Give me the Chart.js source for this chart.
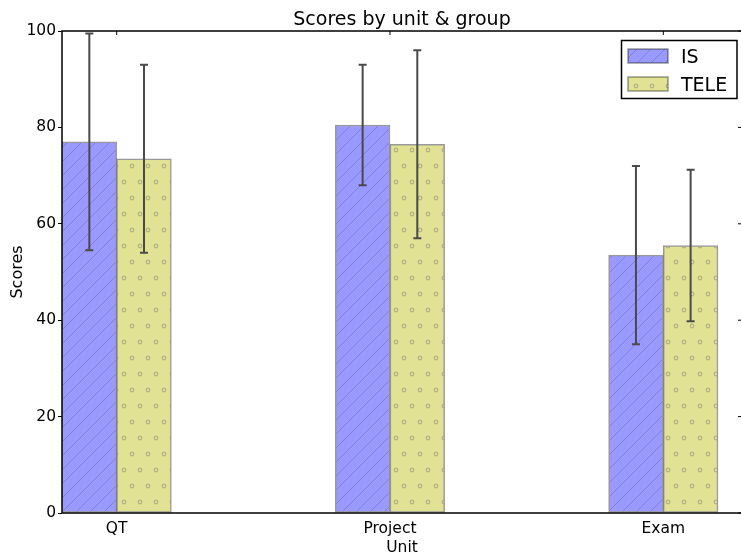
<!DOCTYPE html>
<html>
<head>
<meta charset="utf-8">
<script src="https://cdn.jsdelivr.net/npm/chart.js@4.4.1/dist/chart.umd.min.js"></script>
<style>
  html, body { margin: 0; padding: 0; background: #fff; overflow: hidden; }
  #wrap { width: 741px; height: 553px; overflow: hidden; }
</style>
</head>
<body>
<div id="wrap"><canvas id="chart" width="760" height="553"></canvas></div>
<script>
const units = ['QT', 'Project', 'Exam'];
const isScores = [77, 80.5, 53.5];
const isErrors = [22.5, 12.5, 18.5];
const teleScores = [73.5, 76.5, 55.5];
const teleErrors = [19.5, 19.5, 15.7];
const seriesNames = ['IS', 'TELE'];
const yTicks = [0, 20, 40, 60, 80, 100];

const FONT = '"DejaVu Sans", sans-serif';
const BAR_W = 0.2;
const canvas = document.getElementById('chart');
const ctx = canvas.getContext('2d');

function hatchPattern(bg, line) {
  const c = document.createElement('canvas');
  c.width = 14; c.height = 14;
  const g = c.getContext('2d');
  g.fillStyle = bg;
  g.fillRect(0, 0, 14, 14);
  g.strokeStyle = line;
  g.lineWidth = 1;
  g.beginPath();
  g.moveTo(0, 14); g.lineTo(14, 0);
  g.moveTo(-7, 7); g.lineTo(7, -7);
  g.moveTo(7, 21); g.lineTo(21, 7);
  g.stroke();
  return ctx.createPattern(c, 'repeat');
}

function dotPattern(bg, line) {
  const c = document.createElement('canvas');
  c.width = 16; c.height = 32;
  const g = c.getContext('2d');
  g.fillStyle = bg;
  g.fillRect(0, 0, 16, 32);
  g.strokeStyle = line;
  g.lineWidth = 0.9;
  [[4, 6], [12, 22]].forEach(([x, y]) => {
    g.beginPath();
    g.arc(x, y, 1.9, 0, Math.PI * 2);
    g.stroke();
  });
  return ctx.createPattern(c, 'repeat');
}

const isFill = hatchPattern('#9999ff', 'rgba(90,90,150,0.4)');
const teleFill = dotPattern('#e2e294', 'rgba(120,120,110,0.6)');

const errorBars = {
  id: 'errorBars',
  afterDatasetsDraw(chart) {
    const { ctx, scales: { y } } = chart;
    ctx.save();
    ctx.strokeStyle = '#4a4a4a';
    ctx.lineWidth = 2;
    chart.data.datasets.forEach((ds, di) => {
      chart.getDatasetMeta(di).data.forEach((bar, i) => {
        const v = ds.data[i].y;
        const e = ds.errors[i];
        const top = y.getPixelForValue(v + e);
        const bot = y.getPixelForValue(v - e);
        ctx.beginPath();
        ctx.moveTo(bar.x, top); ctx.lineTo(bar.x, bot);
        ctx.moveTo(bar.x - 4, top); ctx.lineTo(bar.x + 4, top);
        ctx.moveTo(bar.x - 4, bot); ctx.lineTo(bar.x + 4, bot);
        ctx.stroke();
      });
    });
    ctx.restore();
  }
};

// spines, inner ticks, title and legend
const decorations = {
  id: 'decorations',
  afterDraw(chart) {
    const { ctx, chartArea: a, scales: { x, y } } = chart;
    ctx.save();
    ctx.strokeStyle = '#000';
    ctx.lineWidth = 1.5;
    ctx.strokeRect(a.left, a.top, a.right - a.left, a.bottom - a.top);

    ctx.lineWidth = 1;
    ctx.beginPath();
    x.ticks.forEach((t) => {
      const px = x.getPixelForValue(t.value);
      ctx.moveTo(px, a.top); ctx.lineTo(px, a.top + 4);
    });
    y.ticks.forEach((t) => {
      const py = y.getPixelForValue(t.value);
      ctx.moveTo(a.right - 4, py); ctx.lineTo(a.right, py);
    });
    ctx.stroke();

    ctx.fillStyle = '#000';
    ctx.font = `19px ${FONT}`;
    ctx.textAlign = 'center';
    ctx.textBaseline = 'alphabetic';
    ctx.fillText('Scores by unit & group', (a.left + a.right) / 2, 25);

    // legend
    const lx = 621.5, ly = 40.5;
    ctx.fillStyle = '#fff';
    ctx.fillRect(lx, ly, 115.5, 58);
    ctx.lineWidth = 1.5;
    ctx.strokeStyle = '#000';
    ctx.strokeRect(lx, ly, 115.5, 58);
    chart.data.datasets.forEach((ds, i) => {
      const py = 49 + i * 28;
      ctx.fillStyle = ds.backgroundColor;
      ctx.fillRect(628, py, 40, 14);
      ctx.strokeStyle = ds.borderColor;
      ctx.lineWidth = 1.5;
      ctx.strokeRect(628, py, 40, 14);
      ctx.fillStyle = '#000';
      ctx.font = `19px ${FONT}`;
      ctx.textAlign = 'left';
      ctx.fillText(ds.label, 681, py + 14);
    });
    ctx.restore();
  }
};

function barData(values, shift) {
  return values.map((v, i) => ({ x: i + shift, y: v }));
}

new Chart(canvas, {
  type: 'bar',
  data: {
    datasets: [
      {
        label: seriesNames[0],
        data: barData(isScores, -BAR_W / 2),
        errors: isErrors,
        backgroundColor: isFill,
        borderColor: 'rgba(0,0,0,0.4)',
        borderWidth: 1.5,
        borderSkipped: false
      },
      {
        label: seriesNames[1],
        data: barData(teleScores, BAR_W / 2),
        errors: teleErrors,
        backgroundColor: teleFill,
        borderColor: 'rgba(0,0,0,0.4)',
        borderWidth: 1.5,
        borderSkipped: false
      }
    ]
  },
  options: {
    responsive: false,
    animation: false,
    grouped: false,
    barPercentage: 1,
    categoryPercentage: 1,
    layout: { padding: { top: 31, right: 18, left: 0, bottom: 0 } },
    plugins: { legend: { display: false }, tooltip: { enabled: false } },
    scales: {
      x: {
        type: 'linear',
        offset: false,
        min: -0.2,
        max: 2.288,
        grid: { display: false, offset: false },
        border: { display: false },
        afterBuildTicks: (s) => { s.ticks = units.map((u, i) => ({ value: i })); },
        afterFit: (s) => { s.height = 40; },
        ticks: {
          autoSkip: false,
          maxRotation: 0,
          padding: -1,
          color: '#000',
          font: { family: FONT, size: 15.5 },
          callback: (v) => units[v]
        },
        title: {
          display: true,
          text: 'Unit',
          color: '#000',
          padding: { top: 0, bottom: -4 },
          font: { family: FONT, size: 15.5 }
        }
      },
      y: {
        min: 0,
        max: 100,
        afterBuildTicks: (s) => { s.ticks = yTicks.map((v) => ({ value: v })); },
        afterFit: (s) => { s.width = 62; },
        grid: { drawOnChartArea: false, tickLength: 4, color: '#000' },
        border: { display: false },
        ticks: {
          padding: 2,
          color: '#000',
          font: { family: FONT, size: 15.5 }
        },
        title: {
          display: true,
          text: 'Scores',
          color: '#000',
          padding: { top: 8, bottom: 0 },
          font: { family: FONT, size: 16 }
        }
      }
    }
  },
  plugins: [errorBars, decorations]
});
</script>
</body>
</html>
